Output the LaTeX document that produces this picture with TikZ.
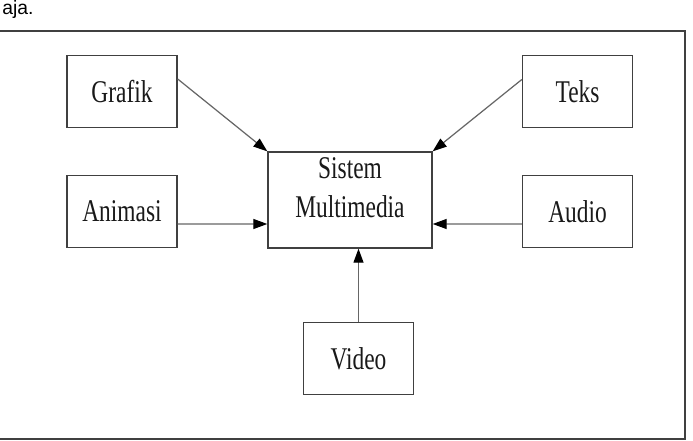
\documentclass[tikz,border=0pt]{standalone}
\usepackage{fontspec}
\usepackage{tikz}
\usetikzlibrary{arrows.meta}
\newfontfamily\boxfont[FakeStretch=0.74]{Liberation Serif}
\newfontfamily\capfont{Liberation Sans}

\begin{document}
\begin{tikzpicture}[x=0.02cm,y=-0.02cm,
  box/.style={draw=black!75,line width=0.8pt,minimum width=2.2cm,minimum height=1.44cm,inner sep=0pt,
    font=\boxfont\fontsize{18}{22}\selectfont,text=black!90},
  feed/.style={draw=black!60,line width=0.7pt,-{Triangle[length=0.28cm,width=0.2cm,black]}}]
\clip (0,0) rectangle (693,440);
\node[font=\capfont\fontsize{11}{13}\selectfont,anchor=base west,inner sep=0pt] (capline) at (2,14) {aja.};
% frame, open on the left
\draw[black!75,line width=0.6pt] (0,31) -- (685,31) -- (685,439) -- (0,439);
% media boxes
\foreach \nm/\x/\y/\txt in {grafik/122/91.5/Grafik, animasi/122/211.5/Animasi,
  teks/577.5/91.5/Teks, audio/577.5/211.5/Audio, video/358.5/358.5/Video}
  \node[box] (\nm) at (\x,\y) {\txt};
\node[box,minimum width=3.28cm,minimum height=1.92cm,align=center,text height=1.3cm,text depth=0.62cm]
  (sistem) at (350,200) {Sistem\\Multimedia};
% arrows into the system
\draw[feed] ([yshift=0.25cm]grafik.east) -- (sistem.north west);
\draw[feed] ([yshift=0.24cm]teks.west) -- (sistem.north east);
\draw[feed] ([yshift=-0.25cm]animasi.east) -- ([yshift=-0.48cm]sistem.west);
\draw[feed] ([yshift=-0.25cm]audio.west) -- ([yshift=-0.48cm]sistem.east);
\draw[feed] (video.north) -- (video.north |- sistem.south);
\end{tikzpicture}
\end{document}
